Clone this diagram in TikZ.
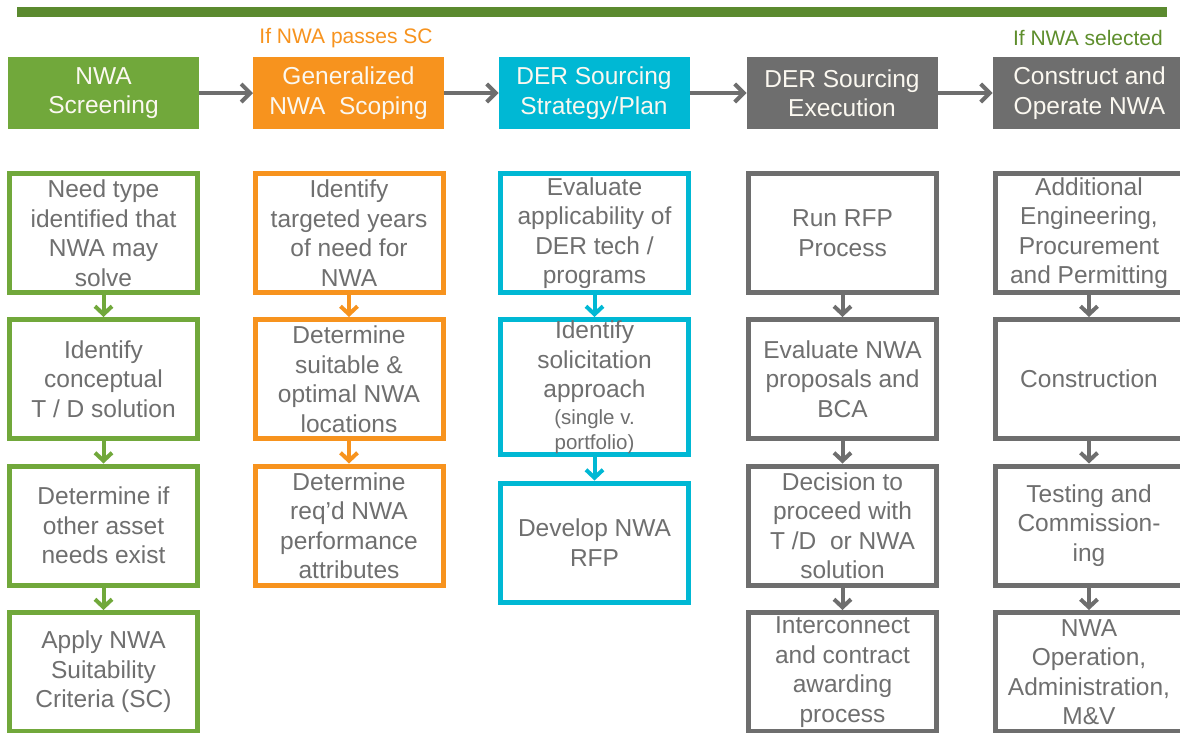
\documentclass[tikz,border=0pt]{standalone}
\usepackage{fontspec}
\setmainfont{Liberation Sans}
\usetikzlibrary{arrows.meta}

\definecolor{barGreen}{HTML}{5B8A2F}
\definecolor{scrGreen}{HTML}{71A83B}
\definecolor{scoOrange}{HTML}{F7931E}
\definecolor{derCyan}{HTML}{00B8D4}
\definecolor{exeGray}{HTML}{6E6E6E}
\definecolor{bodyText}{HTML}{6F6F6F}
\definecolor{hdrText}{HTML}{FBF8F0}
\definecolor{selGreen}{HTML}{5E8E2C}

\newcommand{\bodyfont}{\fontsize{24.5}{29.5}\selectfont}
\newcommand{\smallnote}{\fontsize{20.5}{25}\selectfont}

\begin{document}
\begin{tikzpicture}[x=1pt,y=-1pt,
  hdr/.style={minimum width=191pt, minimum height=72pt, inner sep=0pt,
    outer sep=0pt, text=hdrText, align=center, font=\bodyfont},
  stepbox/.style={draw=#1, line width=5pt, minimum width=188pt,
    minimum height=119pt, inner sep=0pt, text=bodyText, align=center,
    font=\bodyfont},
  hflow/.style={draw=exeGray, line width=4pt,
    -{Straight Barb[length=9pt,width=18pt]}},
  vflow/.style={draw=#1, line width=4pt,
    -{Straight Barb[length=8pt,width=17pt]}},
  cond/.style={font=\fontsize{21}{25}\selectfont, inner sep=0pt},
]
\useasboundingbox (0,0) rectangle (1180,732);
\clip (0,0) rectangle (1180,732);
\fill[white] (0,0) rectangle (1180,732);

% top rule
\fill[barGreen] (17,7) rectangle (1167,17);

% condition labels
\node[cond, text=scoOrange, anchor=base] (passes) at (346,43.5) {If NWA passes SC};
\node[cond, text=selGreen, anchor=base east] (selected) at (1163,45) {If NWA selected};

% phase headers
\node[hdr, fill=scrGreen]  (h1) at (103.5,93) {NWA\\Screening};
\node[hdr, fill=scoOrange] (h2) at (348.5,93) {Generalized\\NWA\ \ Scoping};
\node[hdr, fill=derCyan]   (h3) at (594,93)   {DER Sourcing\\Strategy/Plan};
\node[hdr, fill=exeGray]   (h4) at (842,93)   {DER Sourcing\\Execution};
\node[hdr, fill=exeGray, minimum width=194pt] (h5) at (1089.5,93) {Construct and\\Operate NWA};

\draw[hflow] (h1.east) -- (h2.west);
\draw[hflow] (h2.east) -- (h3.west);
\draw[hflow] (h3.east) -- (h4.west);
\draw[hflow] (h4.east) -- (h5.west);

% column 1: screening
\node[stepbox=scrGreen] (a1) at (103.5,233)   {Need type\\identified that\\NWA may\\solve};
\node[stepbox=scrGreen] (a2) at (103.5,379)   {Identify\\conceptual\\T / D solution};
\node[stepbox=scrGreen] (a3) at (103.5,525.5) {Determine if\\other asset\\needs exist};
\node[stepbox=scrGreen] (a4) at (103.5,672)   {Apply NWA\\Suitability\\Criteria (SC)};
\draw[vflow=scrGreen] (a1.south) -- (a2.north);
\draw[vflow=scrGreen] (a2.south) -- (a3.north);
\draw[vflow=scrGreen] (a3.south) -- (a4.north);

% column 2: scoping
\node[stepbox=scoOrange] (b1) at (349,233)   {Identify\\targeted years\\of need for\\NWA};
\node[stepbox=scoOrange] (b2) at (349,379)   {Determine\\suitable \&\\optimal NWA\\locations};
\node[stepbox=scoOrange] (b3) at (349,525.5) {Determine\\req’d NWA\\performance\\attributes};
\draw[vflow=scoOrange] (b1.south) -- (b2.north);
\draw[vflow=scoOrange] (b2.south) -- (b3.north);

% column 3: sourcing strategy
\node[stepbox=derCyan] (c1) at (594.5,233) {Evaluate\\applicability of\\DER tech /\\programs};
\node[stepbox=derCyan, minimum height=135pt] (c2) at (594.5,387)
  {Identify\\solicitation\\approach\\[-3pt]\smallnote (single v.\\[-4.5pt]\smallnote portfolio)};
\node[stepbox=derCyan] (c3) at (594.5,542.5) {Develop NWA\\RFP};
\draw[vflow=derCyan] (c1.south) -- (c2.north);
\draw[vflow=derCyan] (c2.south) -- (c3.north);

% column 4: sourcing execution
\node[stepbox=exeGray] (d1) at (842.5,233)   {Run RFP\\Process};
\node[stepbox=exeGray] (d2) at (842.5,379)   {Evaluate NWA\\proposals and\\BCA};
\node[stepbox=exeGray] (d3) at (842.5,525.5) {Decision to\\proceed with\\T /D\ \ or NWA\\solution};
\node[stepbox=exeGray] (d4) at (842.5,672)   {Interconnect\\and contract\\awarding\\process};
\draw[vflow=exeGray] (d1.south) -- (d2.north);
\draw[vflow=exeGray] (d2.south) -- (d3.north);
\draw[vflow=exeGray] (d3.south) -- (d4.north);

% column 5: construct and operate
\node[stepbox=exeGray] (e1) at (1089,233)   {Additional\\Engineering,\\Procurement\\and Permitting};
\node[stepbox=exeGray] (e2) at (1089,379)   {Construction};
\node[stepbox=exeGray] (e3) at (1089,525.5) {Testing and\\Commission-\\ing};
\node[stepbox=exeGray] (e4) at (1089,672)   {NWA\\Operation,\\Administration,\\M\&V};
\draw[vflow=exeGray] (e1.south) -- (e2.north);
\draw[vflow=exeGray] (e2.south) -- (e3.north);
\draw[vflow=exeGray] (e3.south) -- (e4.north);
\end{tikzpicture}
\end{document}
